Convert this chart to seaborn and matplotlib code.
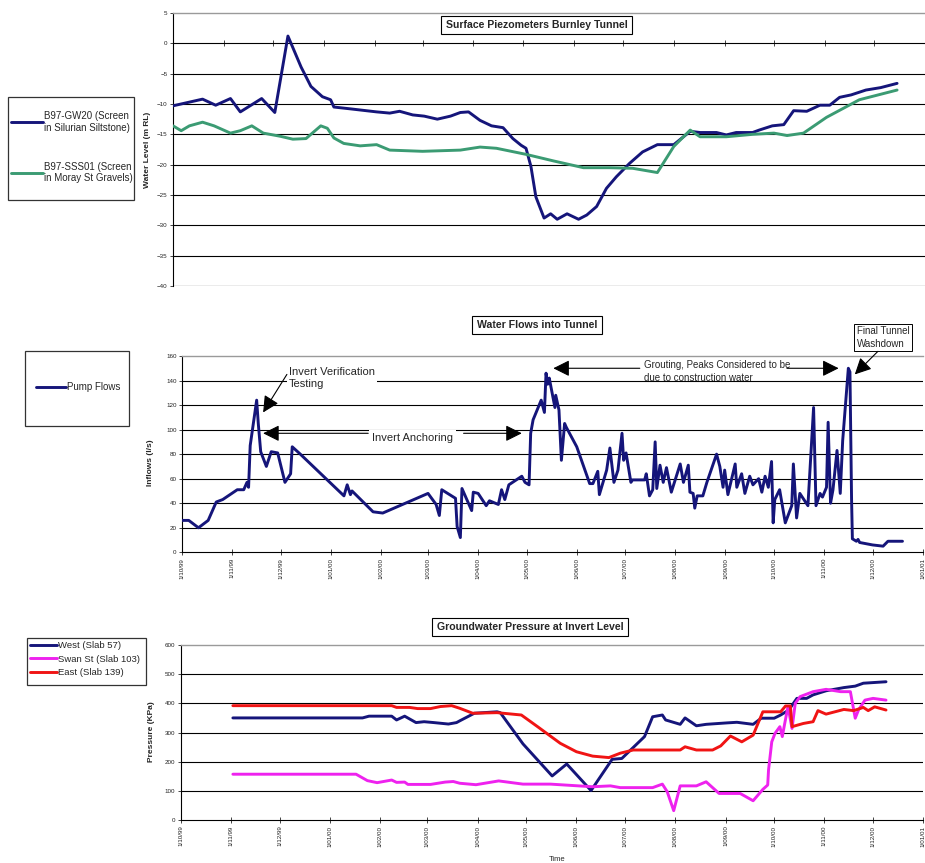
import numpy as np
import pandas as pd
import matplotlib
matplotlib.use('Agg')
import matplotlib.pyplot as plt
import matplotlib.dates as mdates
from matplotlib.patches import Rectangle
import seaborn as sns

START = pd.Timestamp('1999-10-01')
END = pd.Timestamp('2001-01-01')

# surface piezometers, days since 1 Oct 1999 -> water level (m RL)
GW20_DAY = [0, 18, 26, 35, 41, 54, 62, 70, 78, 84, 91, 96, 98, 108, 124, 132, 138, 146, 153, 161,
            169, 175, 180, 187, 194, 201, 207, 212, 215, 218, 221, 226, 230, 234, 240, 247, 252, 258,
            264, 270, 278, 286, 295, 305, 315, 321, 331, 337, 343, 353, 357, 365, 372, 378, 386, 394,
            400, 406, 413, 422, 431, 441]
GW20_LEVEL = [-10.3, -9.2, -10.2, -9.1, -11.3, -9.1, -11.4, 1.2, -3.9, -7.1, -8.8, -9.3, -10.5, -10.8,
              -11.3, -11.5, -11.2, -11.8, -12.0, -12.5, -12.0, -11.4, -11.3, -12.7, -13.6, -13.9, -15.7,
              -16.8, -17.3, -20.3, -25.3, -28.8, -28.1, -29.0, -28.1, -29.0, -28.3, -26.9, -23.9, -22.0,
              -19.8, -17.9, -16.7, -16.7, -14.5, -14.7, -14.7, -15.1, -14.7, -14.7, -14.3, -13.6, -13.4,
              -11.1, -11.2, -10.2, -10.2, -8.9, -8.5, -7.7, -7.3, -6.6]
SSS01_DAY = [0, 5, 10, 18, 25, 35, 41, 48, 55, 65, 73, 81, 90, 94, 98, 104, 114, 124, 132, 152, 175,
             187, 197, 215, 232, 250, 266, 280, 295, 305, 315, 321, 337, 353, 366, 374, 384, 398, 418, 441]
SSS01_LEVEL = [-13.6, -14.4, -13.6, -13.0, -13.6, -14.8, -14.4, -13.6, -14.8, -15.3, -15.8, -15.7, -13.6,
               -14.0, -15.6, -16.5, -16.9, -16.7, -17.6, -17.8, -17.6, -17.1, -17.3, -18.3, -19.4, -20.5,
               -20.5, -20.6, -21.3, -17.0, -14.3, -15.4, -15.4, -15.0, -14.8, -15.2, -14.8, -12.2, -9.3, -7.7]

# pump flows into tunnel (l/s)
PUMP_DAY = [0, 4, 10, 16, 21, 25, 34, 38, 40, 41, 42, 46, 47, 48.5, 52, 55, 59, 63.5, 67, 68, 73, 100,
            102, 104, 105, 118, 124, 152, 157, 159, 160.5, 169, 170, 172, 173, 175, 179, 180, 183, 188,
            190, 195.5, 197.5, 199.5, 202, 210, 212, 214.5, 215.5, 217, 222, 224, 225, 226, 227, 230.5,
            231, 233, 234.5, 236.5, 237.5, 244, 252, 254, 257, 258, 262.5, 264.5, 267, 269.5, 272, 273,
            274.5, 277.5, 278.5, 286, 287, 289, 291, 292.5, 293.5, 295.5, 297.5, 299.5, 302.5, 308, 310,
            313, 314, 316, 317, 318.5, 322, 324.5, 330.5, 332.5, 334.5, 335.5, 337.5, 342, 343, 346, 348,
            351, 353, 356.5, 358.5, 360.5, 362.5, 364.5, 365.5, 366.5, 369.5, 373, 377, 378, 380, 382,
            387, 390.5, 392, 394.5, 396, 398.5, 399.5, 401, 402.5, 405, 407, 408.5, 412, 413, 414, 414.5,
            417, 418, 419, 427, 433.5, 436.5, 445.5]
PUMP_FLOW = [26, 26, 20, 26, 41, 43, 51, 51, 57, 53, 87, 124, 105, 82, 70, 82, 81, 57, 64, 86, 80, 46,
             55, 47, 50, 33, 32, 48, 39, 30, 51, 44, 21, 12, 52, 46, 34, 49, 48, 38,
             42, 39, 51, 43, 55, 62, 57, 55, 97, 108, 124, 114, 146, 137, 142, 118,
             128, 116, 75, 105, 102, 86, 56, 56, 66, 47, 67, 85, 57, 67, 97, 75,
             81, 57, 59, 59, 64, 46, 51, 90, 52, 71, 57, 69, 49, 72, 57,
             71, 49, 48, 36, 46, 46, 57, 80, 70, 53, 67, 47, 72, 53, 64, 48,
             62, 55, 60, 49, 62, 53, 74, 24, 43, 51, 24, 38, 72, 28, 48,
             38, 118, 38, 48, 45, 53, 106, 40, 51, 83, 48, 91, 150, 147, 43, 11,
             9, 10.5, 8, 6, 5, 9, 9]

# groundwater pressure at invert level (kPa)
WEST_DAY = [32, 112, 116, 130, 133, 138, 145, 150, 156, 165, 170, 172, 181, 195, 197, 211, 229, 238, 253,
            266, 272, 286, 291, 297, 299, 308, 311, 318, 324, 337, 343, 353, 358, 366, 370, 375, 380, 386,
            390, 398, 409, 416, 421, 435]
WEST_KPA = [350, 350, 356, 356, 343, 356, 334, 337, 334, 329, 334, 340, 366, 371, 368, 261, 151, 192, 101,
            208, 211, 286, 354, 360, 343, 328, 350, 323, 328, 333, 335, 328, 349, 349, 360, 377, 417, 417,
            429, 443, 454, 459, 469, 474]
SWAN_DAY = [32, 108, 115, 121, 130, 133, 138, 140, 154, 163, 168, 172, 182, 196, 211, 228, 254, 265, 271,
            291, 297, 300, 304, 308, 318, 324, 332, 345, 353, 359, 362, 362.5, 364.5, 366.5, 369.5, 371,
            372.5, 374.5, 377, 379, 382, 390, 398, 407, 413, 416, 418, 422, 427, 435]
SWAN_KPA = [157, 157, 135, 128, 137, 129, 130, 122, 122, 130, 132, 126, 121, 134, 123, 123, 114, 117, 111,
            111, 123, 97, 32, 117, 117, 131, 91, 91, 66, 105, 120, 171, 268, 297, 320, 286,
            331, 389, 314, 400, 423, 440, 448, 440, 440, 349, 377, 411, 417, 411]
EAST_DAY = [32, 130, 133, 141, 146, 154, 160, 167, 172, 180, 195, 210, 220, 234, 244, 254, 264, 271, 279,
            296, 308, 311, 318, 328, 333, 339, 346, 353, 359, 370, 373, 376, 377, 384, 390, 393, 398, 409,
            415, 421, 424, 428, 435]
EAST_KPA = [392, 392, 386, 386, 382, 382, 389, 392, 383, 366, 368, 360, 320, 263, 234, 219, 214, 229, 240,
            240, 240, 251, 240, 240, 254, 288, 268, 291, 371, 371, 391, 391, 320, 331, 337, 375, 363, 379,
            375, 386, 375, 388, 377]

NAVY = '#15157a'
GREEN = '#3b9b73'
MAGENTA = '#ee22ee'
RED = '#f01414'

W, H = 925, 863
MONTHS = pd.date_range(START, END, freq='MS')
MONTH_LABELS = [d.strftime('1/%m/%y') for d in MONTHS]


def day(d):
    return mdates.date2num(START + pd.Timedelta(days=d))


def to_dates(days):
    return START + pd.to_timedelta(days, unit='D')


def fig_box(x0, y0, x1, y1):
    # pixel box (top-left origin) -> figure fractions
    return (x0 / W, 1 - y1 / H, (x1 - x0) / W, (y1 - y0) / H)


def draw(ax, days, values, color):
    sns.lineplot(x=to_dates(days), y=values, ax=ax, color=color, lw=2.1,
                 estimator=None, sort=False, legend=False, zorder=3)


def frame(ax, ylo, yhi, step, inner, labels=True):
    ax.set_xlim(START, END)
    ax.set_ylim(ylo, yhi)
    ax.set_yticks(np.arange(ylo, yhi + step, step))
    for v in inner:
        ax.axhline(v, color='black', lw=0.8, zorder=1)
    ax.spines['right'].set_visible(False)
    ax.spines['top'].set_color('#9a9a9a')
    ax.spines['top'].set_linewidth(1.0)
    ax.spines['left'].set_color('black')
    ax.spines['bottom'].set_color('black')
    ax.tick_params(axis='y', left=True, labelsize=4.5, length=2.5, width=0.6, direction='out',
                   pad=1.5, labelcolor='#222222')
    ax.set_xticks(MONTHS)
    if labels:
        ax.set_xticklabels(MONTH_LABELS, rotation=90)
    else:
        ax.set_xticklabels([])
    ax.tick_params(axis='x', bottom=True, labelsize=4.5, length=4, width=0.6, direction='inout',
                   pad=2, labelcolor='#222222')
    ax.set_xlabel('')


sns.set_style('white')
plt.rcParams['font.family'] = ['Liberation Sans', 'DejaVu Sans']

fig = plt.figure(figsize=(W / 100, H / 100), dpi=100)
fig.patch.set_facecolor('white')

ax1 = fig.add_axes(fig_box(173, 13, 925, 286))
ax2 = fig.add_axes(fig_box(182.3, 356, 922.7, 552.3))
ax3 = fig.add_axes(fig_box(181, 645, 923.3, 820))

# ---- top: surface piezometers
draw(ax1, GW20_DAY, GW20_LEVEL, NAVY)
draw(ax1, SSS01_DAY, SSS01_LEVEL, GREEN)
frame(ax1, -40, 5, 5, range(-35, 0, 5), labels=False)
ax1.spines['bottom'].set_position(('data', 0))
ax1.axhline(-40, color='#9a9a9a', lw=1.0, zorder=1)
ax1.set_ylabel('Water Level (m RL)', fontsize=6, fontweight='bold')
ax1.yaxis.set_label_coords(-0.029, 0.498)

# ---- middle: pump flows
draw(ax2, PUMP_DAY, PUMP_FLOW, NAVY)
frame(ax2, 0, 160, 20, range(20, 160, 20))
ax2.set_ylabel('Inflows (l/s)', fontsize=6, fontweight='bold')
ax2.yaxis.set_label_coords(-0.038, 0.454)

head = dict(arrowstyle='-|>,head_length=0.9,head_width=0.45', color='black', lw=0.8,
            mutation_scale=11, shrinkA=0, shrinkB=0)
ax2.text(day(66), 141.8, 'Invert Verification\nTesting', fontsize=8, ha='left', va='center',
         linespacing=1.25, zorder=4,
         bbox=dict(boxstyle='square,pad=0.2', fc='white', ec='none'))
ax2.annotate('', xy=(day(50), 114), xytext=(day(64.7), 145), arrowprops=head, zorder=5)
ax2.text(day(117.4), 93.5, 'Invert Anchoring', fontsize=8, ha='left', va='center', zorder=4,
         bbox=dict(boxstyle='square,pad=0.25', fc='white', ec='none'))
ax2.annotate('', xy=(day(50), 97), xytext=(day(115), 97), arrowprops=head, zorder=5)
ax2.annotate('', xy=(day(210), 97), xytext=(day(174), 97), arrowprops=head, zorder=5)
ax2.text(day(285.6), 147.5, 'Grouting, Peaks Considered to be\ndue to construction water', fontsize=7,
         ha='left', va='center', linespacing=1.3, zorder=4)
ax2.annotate('', xy=(day(229.5), 150), xytext=(day(283), 150), arrowprops=head, zorder=5)
ax2.annotate('', xy=(day(406), 150), xytext=(day(374), 150), arrowprops=head, zorder=5)
ax2.text(day(417.3), 175, 'Final Tunnel\nWashdown', fontsize=7, ha='left', va='center',
         linespacing=1.3, zorder=4, clip_on=False,
         bbox=dict(boxstyle='square,pad=0.25', fc='white', ec='black', lw=0.7))
ax2.annotate('', xy=(day(416), 145), xytext=(day(430.3), 163.8), arrowprops=head,
             zorder=5, annotation_clip=False)

# ---- bottom: groundwater pressure
draw(ax3, WEST_DAY, WEST_KPA, NAVY)
draw(ax3, SWAN_DAY, SWAN_KPA, MAGENTA)
draw(ax3, EAST_DAY, EAST_KPA, RED)
frame(ax3, 0, 600, 100, range(100, 600, 100))
ax3.set_ylabel('Pressure (KPa)', fontsize=6, fontweight='bold')
ax3.yaxis.set_label_coords(-0.035, 0.505)
fig.text(557 / W, 1 - 859 / H, 'Time', fontsize=5.5, ha='center', va='center')

# chart titles in boxes
title_box = dict(boxstyle='square,pad=0.42', fc='white', ec='black', lw=0.8)
fig.text(536.5 / W, 1 - 25 / H, 'Surface Piezometers Burnley Tunnel', fontsize=7.6,
         fontweight='bold', ha='center', va='center', bbox=title_box)
fig.text(537 / W, 1 - 325 / H, 'Water Flows into Tunnel', fontsize=7.6,
         fontweight='bold', ha='center', va='center', bbox=title_box)
fig.text(530 / W, 1 - 627 / H, 'Groundwater Pressure at Invert Level', fontsize=7.6,
         fontweight='bold', ha='center', va='center', bbox=title_box)

# legends with their own frames
for box in [(8, 97, 134, 200), (25, 351, 129, 426), (27, 638, 146, 685)]:
    fig.patches.append(Rectangle(fig_box(*box)[:2], *fig_box(*box)[2:], transform=fig.transFigure,
                                 fill=False, ec='#333333', lw=0.9))

top_lines = ax1.get_lines()[:2]
fig.legend(top_lines, ['B97-GW20 (Screen\nin Silurian Siltstone)',
                       'B97-SSS01 (Screen\nin Moray St Gravels)'],
           loc='upper left', bbox_to_anchor=(11 / W, 1 - 111 / H), frameon=False, fontsize=7,
           handlelength=3.3, handletextpad=0.1, labelspacing=3.0, borderpad=0, borderaxespad=0)
fig.legend(ax2.get_lines()[:1], ['Pump Flows'],
           loc='upper left', bbox_to_anchor=(36 / W, 1 - 382 / H), frameon=False, fontsize=7,
           handlelength=3.1, handletextpad=0.1, borderpad=0, borderaxespad=0)
fig.legend(ax3.get_lines()[:3], ['West (Slab 57)', 'Swan St (Slab 103)', 'East (Slab 139)'],
           loc='upper left', bbox_to_anchor=(30 / W, 1 - 641 / H), frameon=False, fontsize=6.8,
           handlelength=2.9, handletextpad=0.1, labelspacing=0.5, borderpad=0, borderaxespad=0)

fig.savefig('out.png', dpi=100)
